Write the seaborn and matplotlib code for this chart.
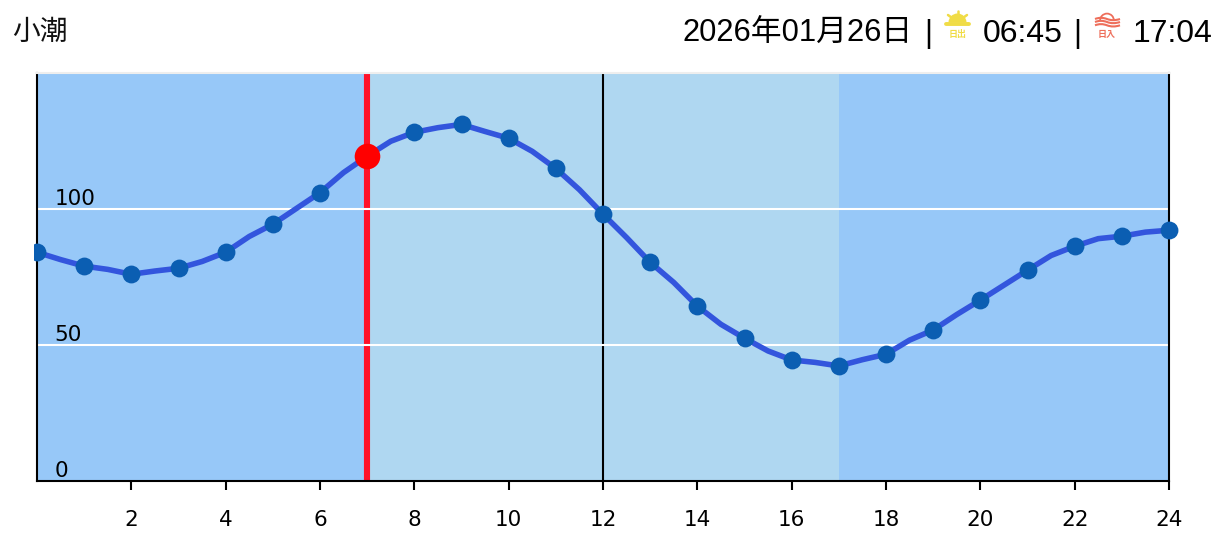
import matplotlib
matplotlib.use("Agg")
import matplotlib.pyplot as plt
import numpy as np
import pandas as pd
import seaborn as sns
from matplotlib.patches import Rectangle, Wedge, PathPatch
from matplotlib.path import Path

# tide level, read every half hour from the picture
hours = [0, 0.5, 1, 1.5, 2, 2.5, 3, 3.5, 4, 4.5, 5, 5.5, 6, 6.5, 7, 7.5,
         8, 8.5, 9, 9.5, 10, 10.5, 11, 11.5, 12, 12.5, 13, 13.5, 14, 14.5, 15, 15.5,
         16, 16.5, 17, 17.5, 18, 18.5, 19, 19.5, 20, 20.5, 21, 21.5, 22, 22.5, 23, 23.5, 24]
levels = [84.1, 81.4, 79.0, 77.8, 76.0, 77.2, 78.2, 80.7, 84.1, 89.9, 94.4, 100.2, 106.0, 113.4, 119.4, 124.9,
          128.2, 129.9, 131.1, 128.5, 126.0, 121.2, 114.9, 107.1, 98.1, 89.5, 80.4, 73.0, 64.3, 57.6, 52.5, 47.8,
          44.5, 43.6, 42.3, 44.6, 46.6, 51.8, 55.5, 61.2, 66.5, 72.0, 77.5, 82.9, 86.3, 89.1, 90.0, 91.5, 92.2]
x_ticks = [2, 4, 6, 8, 10, 12, 14, 16, 18, 20, 22, 24]
y_ticks = [0, 50, 100]
now_hour = 7
noon_hour = 12
day_start = 7
day_end = 17
tide_name = "小潮"
date_text = "2026年01月26日"
sunrise = "06:45"
sunset = "17:04"

df = pd.DataFrame({"hour": hours, "level": levels})
on_hour = df[df["hour"] % 1 == 0]
now = df[df["hour"] == now_hour]

sns.set_theme(style="white")
head_font = ["Liberation Sans", "Noto Sans CJK JP"]
plt.rcParams["font.family"] = ["DejaVu Sans", "Noto Sans CJK JP"]

W, H = 1229, 557
fig = plt.figure(figsize=(W / 100, H / 100), dpi=100)
ax = fig.add_axes([37 / W, 1 - 481 / H, 1132 / W, 408 / H])

# night / day bands
ax.axvspan(0, day_start, color="#97C8F8", lw=0, zorder=0)
ax.axvspan(day_start, day_end, color="#AFD7F1", lw=0, zorder=0)
ax.axvspan(day_end, 24, color="#97C8F8", lw=0, zorder=0)

ax.axvline(now_hour, color="#FF1128", lw=4.4, zorder=1)
ax.axvline(noon_hour, color="black", lw=1.5, zorder=1)
for v in y_ticks[1:]:
    ax.axhline(v, color="white", lw=1.5, zorder=2)

sns.lineplot(data=df, x="hour", y="level", color="#3355DD", lw=4, ax=ax, zorder=3, errorbar=None)
sns.scatterplot(data=on_hour, x="hour", y="level", color="#0B5EB2", s=165, linewidth=0, ax=ax, zorder=4)
sns.scatterplot(data=now, x="hour", y="level", color="#FF0000", s=340, linewidth=0, ax=ax, zorder=5)

# markers run over the right edge but get cut just left of the axis
for coll in ax.collections:
    coll.set_clip_path(Rectangle((-3 / 1132, -0.1), 1.1, 1.2, transform=ax.transAxes))

ax.set_xlim(0, 24)
ax.set_ylim(0, 150)
ax.set_xlabel("")
ax.set_ylabel("")
ax.set_xticks(x_ticks)
ax.set_yticks(y_ticks)
ax.tick_params(axis="x", length=6.5, width=1.5, color="black", labelsize=15.5, labelcolor="black", pad=14.5, bottom=True)
ax.tick_params(axis="y", length=0, labelsize=15.5, labelcolor="black", pad=-12.5)
for lab in ax.get_yticklabels():
    lab.set_horizontalalignment("left")
    lab.set_verticalalignment("bottom")

for side in ["left", "right", "bottom"]:
    ax.spines[side].set_color("black")
    ax.spines[side].set_linewidth(1.5)
    ax.spines[side].set_visible(True)
ax.spines["top"].set_color("#EEEEEE")
ax.spines["top"].set_linewidth(1.5)
ax.spines["top"].set_visible(True)

# header, laid out in pixels
top = fig.add_axes([0, 0, 1, 1], facecolor="none")
top.set_xlim(0, W)
top.set_ylim(H, 0)
top.axis("off")

top.text(12, 33, tide_name, fontsize=20, family=head_font, color="#111111", va="center", ha="left")
top.text(913, 34, date_text, fontsize=22.2, family=head_font, color="black", va="center", ha="right")
top.text(928, 34, "|", fontsize=22, family=head_font, color="black", va="center", ha="center")
top.text(983, 34, sunrise, fontsize=23, family=head_font, color="black", va="center", ha="left")
top.text(1077, 34, "|", fontsize=22, family=head_font, color="black", va="center", ha="center")
top.text(1133, 34, sunset, fontsize=23, family=head_font, color="black", va="center", ha="left")

# sunrise icon
sun = "#F0DC46"
top.add_patch(Wedge((957.5, 22.5), 9, 180, 360, color=sun, lw=0))
top.plot([946, 969], [24, 24], color=sun, lw=2.8, solid_capstyle="round")
top.plot([957.5, 957.5], [10.5, 13], color=sun, lw=1.8)
top.plot([948, 951.5], [15, 17.5], color=sun, lw=1.8)
top.plot([967, 963.5], [15, 17.5], color=sun, lw=1.8)
top.text(957.5, 35, "日出", fontsize=6.5, family=head_font, color=sun, va="center", ha="center", weight="bold")

# sunset icon
red = "#EE6E5A"
top.add_patch(Wedge((1107, 20.5), 7.8, 180, 360, width=1.8, color=red, lw=0))
for wy in [19, 22, 25.3]:
    verts = [(1095, wy), (1101, wy - 2.4), (1107, wy), (1113, wy + 2.4), (1120, wy)]
    codes = [Path.MOVETO, Path.CURVE3, Path.CURVE3, Path.CURVE3, Path.CURVE3]
    top.add_patch(PathPatch(Path(verts, codes), fill=False, edgecolor=red, lw=1.5))
top.text(1107, 34.5, "日入", fontsize=6.5, family=head_font, color=red, va="center", ha="center", weight="bold")

fig.savefig("out.png", dpi=100, facecolor="white")
